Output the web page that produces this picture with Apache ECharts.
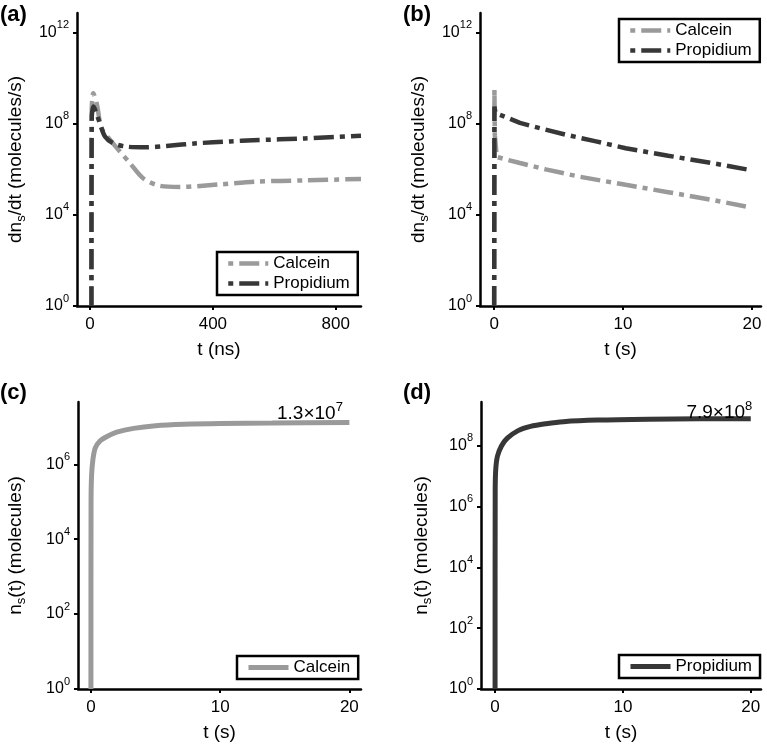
<!DOCTYPE html>
<html>
<head>
<meta charset="utf-8">
<script src="https://cdn.jsdelivr.net/npm/echarts@6/dist/echarts.min.js"></script>
<style>html,body{margin:0;padding:0;background:#fff}#c{width:767px;height:744px}</style>
</head>
<body>
<div id="c"></div>
<script>
// ---------- data ----------
// (a) dn_s/dt vs t (ns)
const tA_calcein = [5, 6, 11, 22, 38, 70, 98, 130, 173, 228, 293, 423, 542, 700, 882];
const vA_calcein = [1, 4e8, 2.2e9, 8.1e8, 6.5e7, 1.7e7, 6e6, 1.9e6, 4.1e5, 1.9e5, 1.7e5, 2.2e5, 2.9e5, 3.3e5, 3.8e5];
const tA_propidium = [5, 6, 12, 20, 32, 49, 76, 119, 184, 249, 347, 455, 531, 700, 882];
const vA_propidium = [1, 2e8, 5.8e8, 3.2e8, 1.1e8, 2.8e7, 1.4e7, 1e7, 9.3e6, 1.07e7, 1.4e7, 1.7e7, 1.9e7, 2.3e7, 3e7];
// (b) dn_s/dt vs t (s)
const tB_calcein = [0, 0.02, 0.05, 0.2, 2, 4, 6.6, 10.2, 13.5, 16.9, 19.6];
const vB_calcein = [1, 3.2e9, 3.2e7, 3.5e6, 1.9e6, 1e6, 4.8e5, 2.1e5, 1e5, 4.6e4, 2.3e4];
const tB_propidium = [0, 0.02, 0.1, 2, 3.8, 5.6, 7.9, 10.2, 13.5, 16.9, 19.8];
const vB_propidium = [1, 5.8e8, 3e8, 1.1e8, 5.9e7, 3.3e7, 1.7e7, 8.5e6, 4e6, 1.9e6, 9.5e5];
// (c) n_s(t) calcein
const tC_calcein = [0, 0.01, 0.05, 0.15, 0.33, 0.7, 1.24, 2, 3.3, 5, 7.2, 10, 14, 20];
const vC_calcein = [1, 1e5, 5e5, 1.3e6, 2.7e6, 4.2e6, 5.5e6, 7.2e6, 9.1e6, 1.07e7, 1.17e7, 1.23e7, 1.26e7, 1.3e7];
// (d) n_s(t) propidium
const tD_propidium = [0, 0.01, 0.05, 0.18, 0.5, 0.96, 1.8, 2.77, 4, 5.35, 8, 12, 16, 20];
const vD_propidium = [1, 3.2e6, 1.6e7, 4.5e7, 1e8, 1.8e8, 3.2e8, 4.4e8, 5.4e8, 6.3e8, 7.1e8, 7.6e8, 7.8e8, 7.9e8];
// annotations
const finalCalcein = {t: 20, v: 1.3e7, mant: '1.3', exp: '7'};
const finalPropidium = {t: 20, v: 7.9e8, mant: '7.9', exp: '8'};
// ticks
const yTicksRate = [1, 1e4, 1e8, 1e12];
const yTicksC = [1, 1e2, 1e4, 1e6];
const yTicksD = [1, 1e2, 1e4, 1e6, 1e8];
const xTicksNs = [0, 400, 800];
const xTicksS = [0, 10, 20];

// ---------- styling ----------
const FONT = '"Liberation Sans", Arial, Helvetica, sans-serif';
const GRAY = '#9a9a9a';
const DARK = '#373737';
const DASHDOT = [20, 6, 5, 6];

const zip = (t, v) => t.map((x, i) => [x, v[i]]);

const supRich = {
  b: {fontSize: 16, fontFamily: FONT, color: '#000', lineHeight: 26},
  s: {fontSize: 11, fontFamily: FONT, color: '#000', verticalAlign: 'top', lineHeight: 12}
};
const nameRich = {
  m: {fontSize: 19, fontFamily: FONT, color: '#000', lineHeight: 24},
  sub: {fontSize: 13, fontFamily: FONT, color: '#000', verticalAlign: 'bottom', lineHeight: 13}
};

function yAxis(gridIndex, max, ticks, name, gap) {
  return {
    type: 'log', logBase: 10, gridIndex, min: 1, max,
    name, nameLocation: 'middle', nameGap: gap,
    nameTextStyle: {rich: nameRich, fontFamily: FONT},
    axisLine: {show: true, onZero: false, lineStyle: {color: '#000', width: 2.5}},
    axisTick: {show: true, inside: false, length: 4, lineStyle: {color: '#000', width: 2}, customValues: ticks},
    axisLabel: {
      customValues: ticks, margin: 8,
      formatter: v => '{b|10}{s|' + Math.round(Math.log10(v)) + '}',
      rich: supRich
    },
    splitLine: {show: false}, minorTick: {show: false}, minorSplitLine: {show: false}
  };
}
function xAxis(gridIndex, min, max, ticks, name) {
  return {
    type: 'value', gridIndex, min, max,
    name, nameLocation: 'middle', nameGap: 34,
    nameTextStyle: {fontSize: 19, fontFamily: FONT, color: '#000'},
    axisLine: {show: true, onZero: false, lineStyle: {color: '#000', width: 2.5}},
    axisTick: {show: true, inside: false, length: 4, lineStyle: {color: '#000', width: 2}, customValues: ticks},
    axisLabel: {customValues: ticks, margin: 10, fontSize: 17, fontFamily: FONT, color: '#000'},
    splitLine: {show: false}
  };
}
function lineSeries(name, xi, data, color, dashed, width, smooth) {
  return {
    type: 'line', name, xAxisIndex: xi, yAxisIndex: xi, data,
    showSymbol: false, symbol: 'none', smooth, clip: true,
    lineStyle: {color, width, type: dashed ? DASHDOT : 'solid', cap: 'butt'},
    itemStyle: {color}, emphasis: {disabled: true}, animation: false
  };
}
function legend(left, top, names, dashed, width) {
  return {
    left, top, orient: 'vertical',
    data: names.map(n => ({
      name: n,
      itemStyle: {opacity: 0, borderWidth: 0},
      lineStyle: {type: dashed ? DASHDOT : 'solid', dashOffset: dashed ? 26 : 0, width, cap: 'butt'}
    })),
    borderColor: '#000', borderWidth: 2.5, borderRadius: 0,
    padding: [3, 8, 3, 9], itemGap: 3, itemWidth: 40, itemHeight: 12,
    textStyle: {fontSize: 17, fontFamily: FONT, color: '#000'},
    selectedMode: false
  };
}
function annot(p, dx, dy) {
  return {
    symbol: 'rect', symbolSize: 1, itemStyle: {color: 'rgba(0,0,0,0)'}, silent: true,
    data: [{coord: [p.t, p.v]}],
    label: {
      show: true, position: 'left', distance: 0, offset: [dx, dy],
      formatter: '{m|' + p.mant + '×10}{e|' + p.exp + '}',
      rich: {
        m: {fontSize: 19, fontFamily: FONT, color: '#000', lineHeight: 26},
        e: {fontSize: 13, fontFamily: FONT, color: '#000', verticalAlign: 'top', lineHeight: 12}
      }
    }
  };
}

const rateName = '{m|dn}{sub|s}{m|/dt (molecules/s)}';
const countName = '{m|n}{sub|s}{m|(t) (molecules)}';

const sC = lineSeries('Calcein', 2, zip(tC_calcein, vC_calcein), GRAY, false, 5, 0.3);
sC.markPoint = annot(finalCalcein, -6, -9);
const sD = lineSeries('Propidium', 3, zip(tD_propidium, vD_propidium), DARK, false, 5, 0.3);
sD.markPoint = annot(finalPropidium, 2, -6);

const option = {
  animation: false,
  backgroundColor: '#fff',
  grid: [
    {left: 77, top: 13, width: 284, height: 293},
    {left: 480, top: 13, width: 281, height: 293},
    {left: 78, top: 402, width: 283, height: 287},
    {left: 481, top: 402, width: 280, height: 287}
  ],
  xAxis: [
    xAxis(0, -42, 882, xTicksNs, 't (ns)'),
    xAxis(1, -1.1, 20.7, xTicksS, 't (s)'),
    xAxis(2, -1.0, 20.9, xTicksS, 't (s)'),
    xAxis(3, -1.1, 20.8, xTicksS, 't (s)')
  ],
  yAxis: [
    yAxis(0, 7.4e12, yTicksRate, rateName, 49),
    yAxis(1, 7.4e12, yTicksRate, rateName, 49),
    yAxis(2, 4.6e7, yTicksC, countName, 50),
    yAxis(3, 2.8e9, yTicksD, countName, 47)
  ],
  legend: [
    legend(217, 252, ['Calcein', 'Propidium'], true, 4.5),
    legend(619, 19, ['Calcein', 'Propidium'], true, 4.5),
    legend(237, 656, ['Calcein'], false, 5),
    legend(619, 655, ['Propidium'], false, 5)
  ],
  series: [
    lineSeries('Calcein', 0, zip(tA_calcein, vA_calcein), GRAY, true, 4.5, 0.3),
    lineSeries('Propidium', 0, zip(tA_propidium, vA_propidium), DARK, true, 4.5, 0.3),
    lineSeries('Calcein', 1, zip(tB_calcein, vB_calcein), GRAY, true, 4.5, false),
    lineSeries('Propidium', 1, zip(tB_propidium, vB_propidium), DARK, true, 4.5, false),
    sC, sD
  ],
  graphic: [
    {type: 'text', left: 0, top: 4, style: {text: '(a)', font: 'bold 22px ' + FONT, fill: '#000'}},
    {type: 'text', left: 403, top: 4, style: {text: '(b)', font: 'bold 22px ' + FONT, fill: '#000'}},
    {type: 'text', left: 0, top: 382, style: {text: '(c)', font: 'bold 22px ' + FONT, fill: '#000'}},
    {type: 'text', left: 403, top: 382, style: {text: '(d)', font: 'bold 22px ' + FONT, fill: '#000'}}
  ]
};

const chart = echarts.init(document.getElementById('c'), null, {renderer: 'canvas'});
chart.setOption(option);
</script>
</body>
</html>
